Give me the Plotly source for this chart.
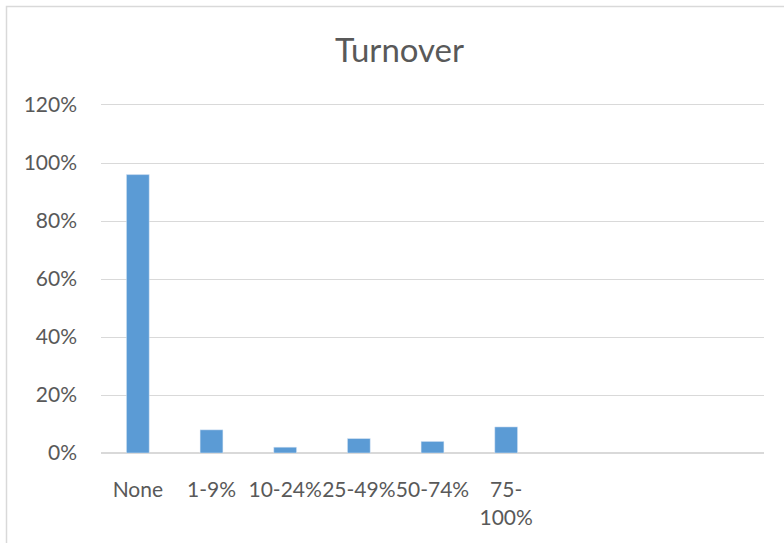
import plotly.graph_objects as go

categories = ["None", "1-9%", "10-24%", "25-49%", "50-74%", "75-<br>100%"]
values = [0.96, 0.08, 0.02, 0.05, 0.04, 0.09]
y_ticks = [0, 0.2, 0.4, 0.6, 0.8, 1.0, 1.2]
title_text = "Turnover"

FONT = "Lato"
TXT = "#595959"
GRID = "#D9D9D9"
BAR = "#5B9BD5"

W, H = 784, 543
L, R, T, B = 101, W - 764, 105, H - 453
pw, ph = W - L - R, H - T - B

def px_x(p):
    return (p - L) / pw

def px_y(p):
    return (H - B - p) / ph

fig = go.Figure(go.Bar(x=categories, y=values, marker_color=BAR, width=0.31))

fig.update_layout(
    width=W, height=H,
    margin=dict(l=L, r=R, t=T, b=B),
    paper_bgcolor="white", plot_bgcolor="white",
    font=dict(family=FONT, color=TXT, size=21),
    title=dict(text=title_text, font=dict(size=33, color=TXT, family=FONT),
               x=399.5 / W, xanchor="center", xref="container",
               y=1 - 50 / H, yanchor="middle", yref="container"),
    showlegend=False,
    xaxis=dict(type="category", range=[-0.5, 8.5], showgrid=False,
               showline=True, mirror=True, linecolor=GRID, linewidth=1,
               zeroline=False, ticks="", tickfont=dict(size=21, color=TXT),
               ticklabelstandoff=18, tickangle=0),
    yaxis=dict(range=[0, 1.2], tickvals=y_ticks, tickformat=".0%", showgrid=True,
               gridcolor=GRID, gridwidth=1, zeroline=True, zerolinecolor=GRID,
               zerolinewidth=1.5, showline=False, ticks="",
               tickfont=dict(size=21, color=TXT), ticklabelstandoff=23),
    shapes=[dict(type="rect", xref="paper", yref="paper",
                 x0=px_x(6.5), x1=px_x(W + 10), y0=px_y(H + 10), y1=px_y(6.5),
                 line=dict(color=GRID, width=1.5), fillcolor="rgba(0,0,0,0)",
                 layer="below")],
)

fig.write_html("out.html")
